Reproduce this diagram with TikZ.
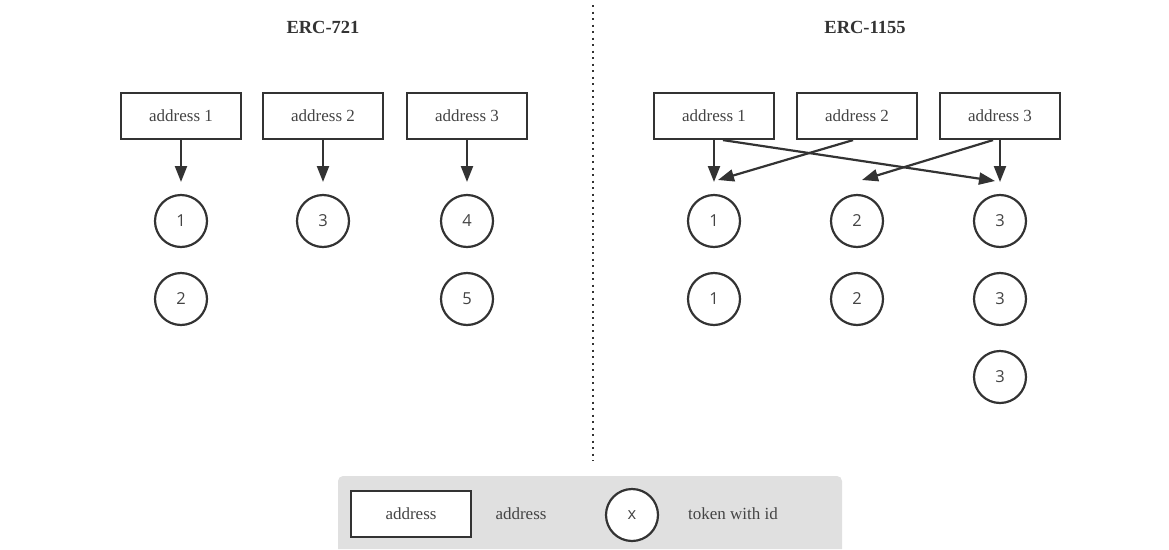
\documentclass[tikz,border=0pt]{standalone}
\usepackage{fontspec}
\setmainfont{Liberation Serif}
\newfontfamily\digitfont{Open Sans}
\usetikzlibrary{arrows.meta}
\definecolor{ink}{HTML}{333333}
\definecolor{txt}{HTML}{444444}
\definecolor{legendbg}{HTML}{E0E0E0}
\tikzset{
  addr/.style={draw=ink, line width=2.2pt, fill=white, minimum width=120pt, minimum height=46pt,
    inner sep=0pt, text=txt, font=\fontsize{17}{19}\selectfont},
  token/.style={draw=ink, line width=2.2pt, fill=white, circle, minimum size=52pt, inner sep=0pt,
    text=txt, font=\digitfont\fontsize{16.5}{18}\selectfont},
  title/.style={text=ink, font=\bfseries\fontsize{18.5}{20}\selectfont},
  plain/.style={text=txt, font=\fontsize{17}{19}\selectfont},
  link/.style={draw=ink, line width=2.2pt, -{Triangle[length=16pt,width=12pt]}},
  divider/.style={draw=ink, line width=2pt, dash pattern=on 2pt off 4.5pt}
}
\begin{document}
\begin{tikzpicture}[x=1pt, y=-1pt]
\useasboundingbox (0,0) rectangle (1169,549);

% titles
\node[title] (t721) at (323,27) {ERC-721};
\node[title] (t1155) at (865,27) {ERC-1155};

% divider between the two standards
\coordinate (dtop) at (593,5);
\coordinate (dbot) at (593,461);
\draw[divider] (dtop) -- (dbot);

% ---------------- ERC-721 ----------------
\node[addr] (a1) at (181,116) {address 1};
\node[addr] (a2) at (323,116) {address 2};
\node[addr] (a3) at (467,116) {address 3};

\node[token] (n1) at (181,221) {1};
\node[token] (n2) at (181,299) {2};
\node[token] (n3) at (323,221) {3};
\node[token] (n4) at (467,221) {4};
\node[token] (n5) at (467,299) {5};

\coordinate (p1) at (181,182);
\coordinate (p2) at (323,182);
\coordinate (p3) at (467,182);
\draw[link] (a1.south) -- (p1);
\draw[link] (a2.south) -- (p2);
\draw[link] (a3.south) -- (p3);

% ---------------- ERC-1155 ----------------
\node[addr] (b1) at (714,116) {address 1};
\node[addr] (b2) at (857,116) {address 2};
\node[addr] (b3) at (1000,116) {address 3};

\node[token] (m11) at (714,221) {1};
\node[token] (m12) at (714,299) {1};
\node[token] (m21) at (857,221) {2};
\node[token] (m22) at (857,299) {2};
\node[token] (m31) at (1000,221) {3};
\node[token] (m32) at (1000,299) {3};
\node[token] (m33) at (1000,377) {3};

\coordinate (q1) at (714,182);
\coordinate (q1s) at (718,180);
\coordinate (q2s) at (862,180);
\coordinate (q3) at (1000,182);
\coordinate (q3s) at (995,181);

\draw[link] (b1.south) -- (q1);
\draw[link] ([xshift=-4pt]b2.south) -- (q1s);
\draw[link] ([xshift=9pt]b1.south) -- (q3s);
\draw[link] ([xshift=-7pt]b3.south) -- (q2s);
\draw[link] (b3.south) -- (q3);

% ---------------- legend ----------------
\fill[legendbg] (338,549) [rounded corners=5pt] -- (338,476) -- (842,476) [sharp corners] -- (842,549) -- cycle;
\node[addr] (la) at (411,514) {address};
\node[plain] (lat) at (521,514) {address};
\node[token] (lt) at (632,515) {x};
\node[plain] (ltt) at (733,514) {token with id};
\end{tikzpicture}
\end{document}
